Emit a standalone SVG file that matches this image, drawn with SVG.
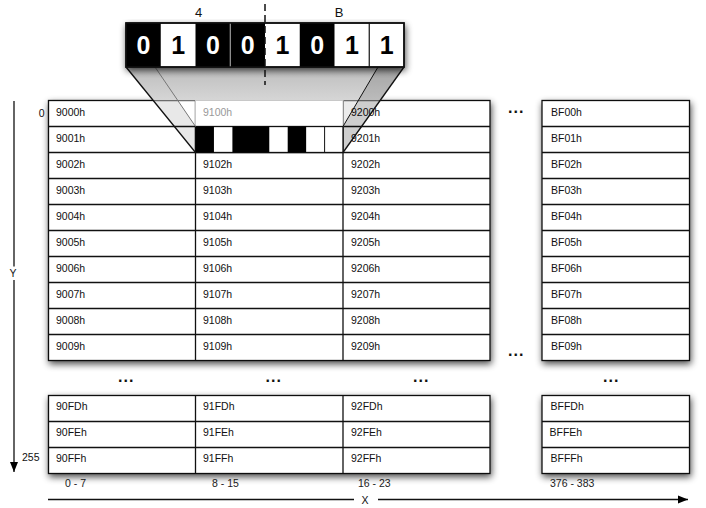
<svg xmlns="http://www.w3.org/2000/svg" width="706" height="508" viewBox="0 0 706 508">
<defs>
<filter id="sh" x="-10%" y="-15%" width="125%" height="140%">
<feGaussianBlur in="SourceAlpha" stdDeviation="3.5"/>
<feOffset dx="1" dy="3" result="b"/>
<feComponentTransfer><feFuncA type="linear" slope="0.7"/></feComponentTransfer>
<feMerge><feMergeNode/><feMergeNode in="SourceGraphic"/></feMerge>
</filter>
<linearGradient id="fun" x1="0" y1="0" x2="0" y2="1">
<stop offset="0" stop-color="#bcbcbc"/><stop offset="1" stop-color="#d6d6d6"/>
</linearGradient>
<marker id="ah" viewBox="0 0 10 10" refX="10" refY="5" markerWidth="11" markerHeight="10" markerUnits="userSpaceOnUse" orient="auto"><path d="M0,1 L10,5 L0,9 z" fill="#000"/></marker>
</defs>
<style>
.cell{fill:#fff;stroke:#111;stroke-width:1.3}
.ln{stroke:#111;stroke-width:1.3;fill:none}
.t{font-family:"Liberation Sans",Arial,sans-serif;font-size:10.5px;fill:#111}
.lab{font-family:"Liberation Sans",Arial,sans-serif;font-size:10.5px;fill:#222}
.dots{font-family:"Liberation Sans",Arial,sans-serif;font-size:16px;font-weight:bold;letter-spacing:1px;fill:#111}
.bit{font-family:"Liberation Sans",Arial,sans-serif;font-size:25px;font-weight:bold;text-anchor:middle}
.hdr{font-family:"Liberation Sans",Arial,sans-serif;font-size:13px;text-anchor:middle;fill:#111}
</style>
<rect width="706" height="508" fill="#fff"/>

<g id="connectors">
<line class="ln" x1="14" y1="101" x2="14" y2="266.5"/>
<line class="ln" x1="14" y1="280" x2="14" y2="472" marker-end="url(#ah)"/>
<line class="ln" x1="48" y1="499.5" x2="354" y2="499.5"/>
<line class="ln" x1="378" y1="499.5" x2="688" y2="499.5" marker-end="url(#ah)"/>
</g>

<g id="axis-labels">
<text class="t" x="13" y="277" text-anchor="middle" font-size="11">Y</text>
<text class="t" x="365" y="503.5" text-anchor="middle" font-size="11">X</text>
<text class="t" x="44.5" y="117" text-anchor="end">0</text>
<text class="t" x="39.5" y="461" text-anchor="end">255</text>
<text class="lab" x="65" y="487">0 - 7</text>
<text class="lab" x="212" y="487">8 - 15</text>
<text class="lab" x="358" y="487">16 - 23</text>
<text class="lab" x="550" y="487">376 - 383</text>
</g>

<g id="block-top">
<rect class="cell" x="48.5" y="100.5" width="441.5" height="260" filter="url(#sh)"/>
<path class="ln" d="M48.5,126.5H490M48.5,152.5H490M48.5,178.5H490M48.5,204.5H490M48.5,230.5H490M48.5,256.5H490M48.5,282.5H490M48.5,308.5H490M48.5,334.5H490M195.5,100.5V360.5M343,100.5V360.5"/>
<g class="t">
<text x="56" y="116">9000h</text><text x="56" y="142">9001h</text><text x="56" y="168">9002h</text><text x="56" y="194">9003h</text><text x="56" y="220">9004h</text><text x="56" y="246">9005h</text><text x="56" y="272">9006h</text><text x="56" y="298">9007h</text><text x="56" y="324">9008h</text><text x="56" y="350">9009h</text>
<text x="203" y="168">9102h</text><text x="203" y="194">9103h</text><text x="203" y="220">9104h</text><text x="203" y="246">9105h</text><text x="203" y="272">9106h</text><text x="203" y="298">9107h</text><text x="203" y="324">9108h</text><text x="203" y="350">9109h</text>
<text x="351" y="116">9200h</text><text x="351" y="142">9201h</text><text x="351" y="168">9202h</text><text x="351" y="194">9203h</text><text x="351" y="220">9204h</text><text x="351" y="246">9205h</text><text x="351" y="272">9206h</text><text x="351" y="298">9207h</text><text x="351" y="324">9208h</text><text x="351" y="350">9209h</text>
</g>
</g>

<g id="block-top-right">
<rect class="cell" x="542" y="100.5" width="147.5" height="260" filter="url(#sh)"/>
<path class="ln" d="M542,126.5H689.5M542,152.5H689.5M542,178.5H689.5M542,204.5H689.5M542,230.5H689.5M542,256.5H689.5M542,282.5H689.5M542,308.5H689.5M542,334.5H689.5"/>
<g class="t">
<text x="551" y="116">BF00h</text><text x="551" y="142">BF01h</text><text x="551" y="168">BF02h</text><text x="551" y="194">BF03h</text><text x="551" y="220">BF04h</text><text x="551" y="246">BF05h</text><text x="551" y="272">BF06h</text><text x="551" y="298">BF07h</text><text x="551" y="324">BF08h</text><text x="551" y="350">BF09h</text>
</g>
</g>

<g id="block-bottom">
<rect class="cell" x="48.5" y="395.5" width="441.5" height="78" filter="url(#sh)"/>
<path class="ln" d="M48.5,421.5H490M48.5,447.5H490M195.5,395.5V473.5M343,395.5V473.5"/>
<g class="t">
<text x="56" y="410">90FDh</text><text x="56" y="436">90FEh</text><text x="56" y="462">90FFh</text>
<text x="203" y="410">91FDh</text><text x="203" y="436">91FEh</text><text x="203" y="462">91FFh</text>
<text x="351" y="410">92FDh</text><text x="351" y="436">92FEh</text><text x="351" y="462">92FFh</text>
</g>
</g>

<g id="block-bottom-right">
<rect class="cell" x="542" y="395.5" width="147.5" height="78" filter="url(#sh)"/>
<path class="ln" d="M542,421.5H689.5M542,447.5H689.5"/>
<g class="t">
<text x="550.5" y="410">BFFDh</text><text x="549.5" y="436">BFFEh</text><text x="550.5" y="462">BFFFh</text>
</g>
</g>

<g id="ellipses" class="dots">
<text x="508" y="112.5">...</text>
<text x="508" y="356">...</text>
<text x="118" y="381.5">...</text>
<text x="265.5" y="381.5">...</text>
<text x="413" y="381.5">...</text>
<text x="603" y="381.5">...</text>
</g>

<g id="magnifier">
<polygon points="126,67 404,67 380.1,100.5 153.2,100.5" fill="url(#fun)"/>
<polygon points="153.2,100.5 177.8,100.5 195.5,126.5 195.5,152.5" fill="#000" fill-opacity="0.09"/>
<polygon points="343,100.5 380.1,100.5 343,152.5" fill="#000" fill-opacity="0.08"/>
<polygon points="378,67 404,67 343,152.5 343,126.5" fill="#000" fill-opacity="0.12"/>
<rect x="195.5" y="100.5" width="147.5" height="26" fill="#fff" stroke="#c8c8c8" stroke-width="1"/>
<text class="t" x="203" y="116" style="fill:#999">9100h</text>
<rect x="195.5" y="126.5" width="147.5" height="26" fill="#fff" stroke="#111" stroke-width="1.3"/>
<rect x="195.5" y="126.5" width="18.44" height="26" fill="#000"/>
<rect x="232.4" y="126.5" width="36.88" height="26" fill="#000"/>
<rect x="287.7" y="126.5" width="18.44" height="26" fill="#000"/>
<line x1="324.6" y1="126.5" x2="324.6" y2="152.5" stroke="#111" stroke-width="1"/>
<line x1="126" y1="67" x2="195.5" y2="152.5" stroke="#111" stroke-width="1.3"/>
<line x1="404" y1="67" x2="343" y2="152.5" stroke="#111" stroke-width="1.3"/>
<line x1="155" y1="67" x2="195.5" y2="126.5" stroke="#777" stroke-width="1"/>
<line x1="378" y1="67" x2="343" y2="126.5" stroke="#111" stroke-width="1"/>
</g>

<g id="byte">
<rect x="126" y="23" width="278" height="44" fill="#fff" stroke="#111" stroke-width="1.5" filter="url(#sh)"/>
<rect x="126" y="23" width="34.75" height="44" fill="#000"/>
<rect x="195.5" y="23" width="69.5" height="44" fill="#000"/>
<rect x="299.75" y="23" width="34.75" height="44" fill="#000"/>
<line x1="230.25" y1="23" x2="230.25" y2="67" stroke="#bbb" stroke-width="1"/>
<line x1="369.25" y1="23" x2="369.25" y2="67" stroke="#111" stroke-width="1.2"/>
<rect x="126" y="23" width="278" height="44" fill="none" stroke="#111" stroke-width="1.5"/>
<text class="bit" x="143.4" y="54" fill="#fff">0</text>
<text class="bit" x="178.1" y="54" fill="#000">1</text>
<text class="bit" x="212.9" y="54" fill="#fff">0</text>
<text class="bit" x="247.6" y="54" fill="#fff">0</text>
<text class="bit" x="282.4" y="54" fill="#000">1</text>
<text class="bit" x="317.1" y="54" fill="#fff">0</text>
<text class="bit" x="351.9" y="54" fill="#000">1</text>
<text class="bit" x="386.6" y="54" fill="#000">1</text>
<text class="hdr" x="198.5" y="17">4</text>
<text class="hdr" x="339" y="17">B</text>
<line x1="265" y1="4" x2="265" y2="85" stroke="#111" stroke-width="1.5" stroke-dasharray="7,4"/>
</g>
</svg>
